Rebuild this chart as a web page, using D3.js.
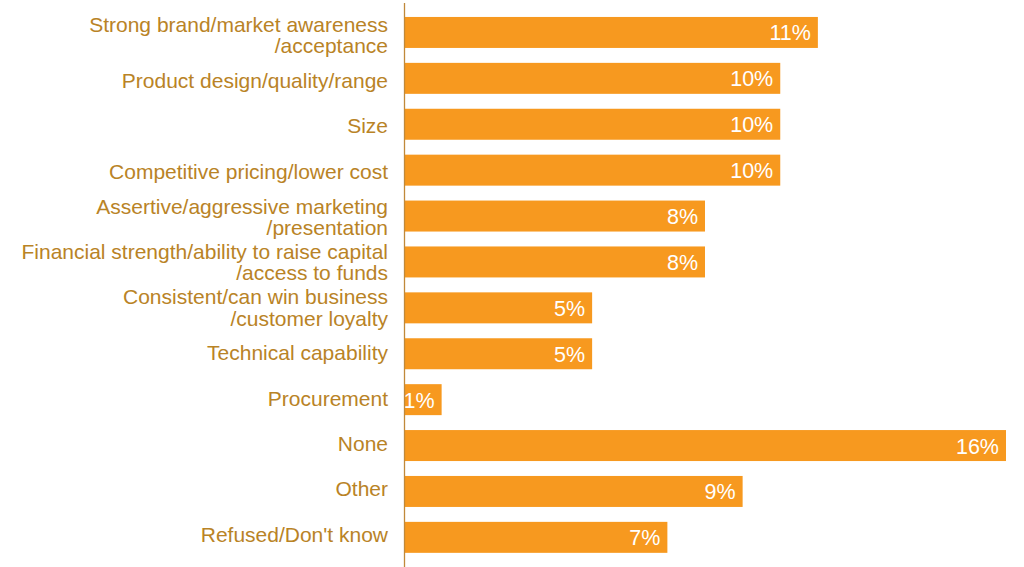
<!DOCTYPE html>
<html>
<head>
<meta charset="utf-8">
<script src="https://cdn.jsdelivr.net/npm/d3@7"></script>
<style>
  html, body { margin: 0; padding: 0; background: #fff; }
  svg { display: block; font-family: "Liberation Sans", Arial, Helvetica, sans-serif; }
</style>
</head>
<body>
<svg id="chart" width="1024" height="567"></svg>
<script>
// Categories (each entry is a list of label lines) and their shares in percent
const categories = [
  ["Strong brand/market awareness", "/acceptance"],
  ["Product design/quality/range"],
  ["Size"],
  ["Competitive pricing/lower cost"],
  ["Assertive/aggressive marketing", "/presentation"],
  ["Financial strength/ability to raise capital", "/access to funds"],
  ["Consistent/can win business", "/customer loyalty"],
  ["Technical capability"],
  ["Procurement"],
  ["None"],
  ["Other"],
  ["Refused/Don't know"]
];
const values = [11, 10, 10, 10, 8, 8, 5, 5, 1, 16, 9, 7];

const barColor = "#f7991f";
const labelColor = "#b98326";
const axisColor = "#c0893a";

const svg = d3.select("#chart");
const x0 = 404, x1 = 1006;
const x = d3.scaleLinear().domain([0, 16]).range([x0, x1]);
const idx = d3.range(categories.length);
const y = d3.scaleBand()
  .domain(idx)
  .range([9.5, 560.3])
  .paddingInner(0.325)
  .paddingOuter(0.1625);
// Label baselines sit on their own, slightly tighter, spacing
const yLabel = d3.scalePoint().domain(idx).range([42.7, 541.7]);

const rows = svg.append("g").selectAll("g")
  .data(values)
  .join("g");

rows.append("rect")
  .attr("x", x(0) + 1)
  .attr("y", (d, i) => y(i))
  .attr("width", d => x(d) - x(0) - 1)
  .attr("height", y.bandwidth())
  .attr("fill", barColor);

rows.append("text")
  .attr("x", d => x(d) - 7)
  .attr("y", (d, i) => y(i) + y.bandwidth() / 2 + 8)
  .attr("text-anchor", "end")
  .attr("fill", "#fff")
  .attr("font-size", 21.5)
  .text(d => d + "%");

// Category labels, right-aligned against the axis
const lineH = 21.3;
rows.append("text")
  .attr("text-anchor", "end")
  .attr("fill", labelColor)
  .attr("font-size", 21)
  .each(function(d, i) {
    const lines = categories[i];
    const top = yLabel(i) - (lines.length - 1) * lineH / 2;
    d3.select(this).selectAll("tspan")
      .data(lines)
      .join("tspan")
      .attr("x", 388)
      .attr("y", (l, k) => top + k * lineH)
      .text(l => l);
  });

// Vertical baseline axis
svg.append("line")
  .attr("x1", x0 + 0.5).attr("x2", x0 + 0.5)
  .attr("y1", 3).attr("y2", 567)
  .attr("stroke", axisColor)
  .attr("stroke-width", 1.3);
</script>
</body>
</html>
